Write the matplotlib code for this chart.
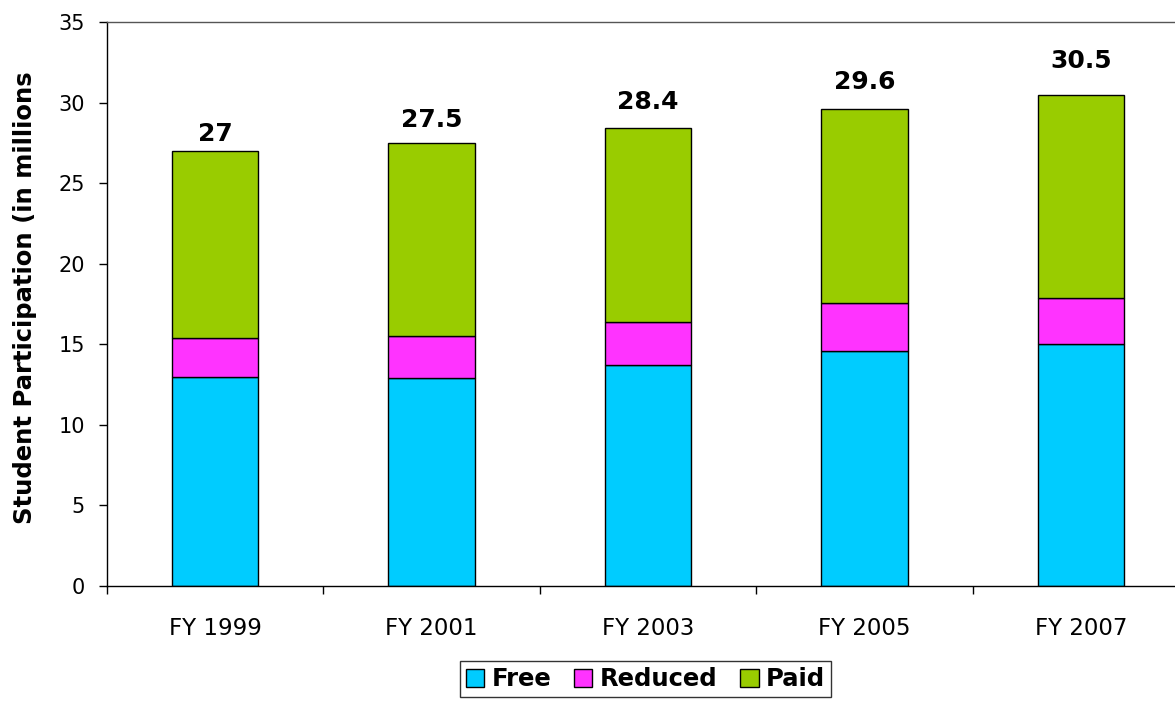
import matplotlib
matplotlib.use("Agg")
import matplotlib.pyplot as plt
import numpy as np

categories = ["FY 1999", "FY 2001", "FY 2003", "FY 2005", "FY 2007"]
free = [13.0, 12.9, 13.7, 14.6, 15.0]
reduced = [2.4, 2.6, 2.7, 2.95, 2.9]
paid = [11.6, 12.0, 12.0, 12.05, 12.6]
totals = [27, 27.5, 28.4, 29.6, 30.5]
total_labels = ["27", "27.5", "28.4", "29.6", "30.5"]

# label offsets above bar tops (points), as placed in the original
label_offsets = [3.6, 7.9, 10.0, 10.8, 15.8]

plt.rcParams['font.family'] = ['DejaVu Sans']

W, H = 1175, 701
fig = plt.figure(figsize=(W / 100, H / 100), dpi=100)
fig.patch.set_facecolor("white")
ax = fig.add_axes([107 / W, 1 - 586 / H, (1189 - 107) / W, (586 - 22) / H])

x = np.arange(len(categories))
bw = 0.4
c_free, c_red, c_paid = "#00CCFF", "#FF33FF", "#99CC00"
ax.bar(x, free, bw, color=c_free, edgecolor="black", linewidth=1, label="Free")
ax.bar(x, reduced, bw, bottom=free, color=c_red, edgecolor="black", linewidth=1, label="Reduced")
bot2 = np.array(free) + np.array(reduced)
ax.bar(x, paid, bw, bottom=bot2, color=c_paid, edgecolor="black", linewidth=1, label="Paid")

for xi, t, lab, off in zip(x, totals, total_labels, label_offsets):
    ax.annotate(lab, (xi, t), xytext=(0, off), textcoords="offset points",
                ha="center", va="bottom", fontsize=18, fontweight="bold")

ax.set_xlim(-0.486, len(categories) - 0.5)
ax.set_ylim(0, 35)
ax.set_yticks(np.arange(0, 36, 5))
ax.tick_params(axis="y", direction="out", length=6, width=1, pad=10, labelsize=15)

ax.set_xticks(np.arange(-0.5, len(categories), 1.0))
ax.set_xticklabels([])
ax.tick_params(axis="x", which="major", direction="out", length=6, width=1)
ax.set_xticks(x, minor=True)
ax.set_xticklabels(categories, minor=True)
ax.tick_params(axis="x", which="minor", length=0, pad=22, labelsize=16.5)

for s in ax.spines.values():
    s.set_color("black")
    s.set_linewidth(1)
ax.spines["top"].set_color("#555555")

ax.set_ylabel("Student Participation (in millions", fontsize=17.5, fontweight="bold")
ax.yaxis.set_label_coords(-82 / (1189 - 107), 0.512)
ax.yaxis.label.set_va("center")

leg = fig.legend(loc="upper center", bbox_to_anchor=(645.5 / W, 1 - 661 / H),
                 ncol=3, frameon=True, fancybox=False, edgecolor="black",
                 prop={"weight": "bold", "size": 17.5},
                 handlelength=0.75, handleheight=0.75, handletextpad=0.3,
                 columnspacing=0.95, borderpad=0.25, borderaxespad=0)
leg.get_frame().set_linewidth(1)

fig.savefig("out.png", dpi=100, facecolor="white")
